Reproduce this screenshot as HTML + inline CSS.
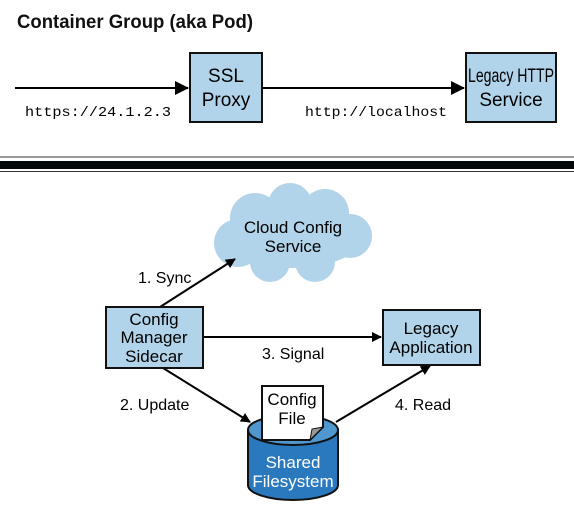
<!DOCTYPE html>
<html><head><meta charset="utf-8"><style>
html,body{margin:0;padding:0;background:#fff;}
svg text{font-family:"Liberation Sans Narrow","Liberation Sans",sans-serif;}
.m{font-family:"Liberation Mono",monospace !important;}
</style></head><body>
<svg width="574" height="509" viewBox="0 0 574 509" xmlns="http://www.w3.org/2000/svg">
<defs>
<marker id="a" markerWidth="10" markerHeight="10" refX="9" refY="5" orient="auto" markerUnits="userSpaceOnUse">
<path d="M0,0 L10,5 L0,10 z" fill="#000"/></marker>
<marker id="b" markerWidth="14" markerHeight="14" refX="13" refY="7" orient="auto" markerUnits="userSpaceOnUse">
<path d="M0,0 L14,7 L0,14 z" fill="#000"/></marker>
</defs>
<text x="17" y="28" font-size="19" font-weight="bold" fill="#111" textLength="236" lengthAdjust="spacingAndGlyphs">Container Group (aka Pod)</text>
<line x1="15" y1="88" x2="188" y2="88" stroke="#000" stroke-width="2" marker-end="url(#b)"/>
<rect x="190" y="53" width="72" height="69" fill="#b2d4ea" stroke="#111" stroke-width="2"/>
<text x="226" y="82" font-size="19" text-anchor="middle">SSL</text>
<text x="226" y="106" font-size="19" text-anchor="middle">Proxy</text>
<line x1="262" y1="88" x2="464" y2="88" stroke="#000" stroke-width="2" marker-end="url(#b)"/>
<rect x="466" y="53" width="90" height="69" fill="#b2d4ea" stroke="#111" stroke-width="2"/>
<text x="511" y="82" font-size="19" text-anchor="middle" textLength="86" lengthAdjust="spacingAndGlyphs">Legacy HTTP</text>
<text x="511" y="106" font-size="19" text-anchor="middle">Service</text>
<text x="25" y="116" font-size="14" class="m" textLength="146" lengthAdjust="spacingAndGlyphs">https://24.1.2.3</text>
<text x="305" y="116" font-size="14" class="m" textLength="142" lengthAdjust="spacingAndGlyphs">http://localhost</text>
<line x1="0" y1="157" x2="574" y2="157" stroke="#333" stroke-width="1"/>
<rect x="0" y="161" width="574" height="8" fill="#050808"/>
<line x1="0" y1="171.5" x2="574" y2="171.5" stroke="#333" stroke-width="1"/>
<!-- cloud -->
<g fill="#b2d4ea">
<ellipse cx="293" cy="236" rx="70" ry="32"/>
<circle cx="255" cy="218" r="25"/><circle cx="290" cy="205" r="22"/><circle cx="325" cy="213" r="24"/>
<circle cx="350" cy="236" r="22"/><circle cx="238" cy="243" r="24"/><circle cx="270" cy="262" r="20"/>
<circle cx="315" cy="262" r="20"/>
</g>
<text x="293" y="233" font-size="17" text-anchor="middle">Cloud Config</text>
<text x="293" y="252" font-size="17" text-anchor="middle">Service</text>
<line x1="160" y1="307" x2="235" y2="259" stroke="#000" stroke-width="2" marker-end="url(#a)"/>
<text x="138" y="283" font-size="16">1. Sync</text>
<line x1="203" y1="337" x2="381" y2="337" stroke="#000" stroke-width="2" marker-end="url(#a)"/>
<text x="262" y="359" font-size="16">3. Signal</text>
<line x1="163" y1="368" x2="250" y2="422" stroke="#000" stroke-width="2" marker-end="url(#a)"/>
<text x="120" y="410" font-size="16">2. Update</text>
<line x1="336" y1="422" x2="430" y2="366" stroke="#000" stroke-width="2" marker-end="url(#a)"/>
<text x="395" y="410" font-size="16">4. Read</text>
<rect x="106" y="307" width="97" height="61" fill="#b2d4ea" stroke="#111" stroke-width="2"/>
<text x="154" y="325" font-size="17" text-anchor="middle">Config</text>
<text x="154" y="343" font-size="17" text-anchor="middle">Manager</text>
<text x="154" y="362" font-size="17" text-anchor="middle">Sidecar</text>
<rect x="383" y="310" width="97" height="55" fill="#b2d4ea" stroke="#111" stroke-width="2"/>
<text x="431" y="334" font-size="17" text-anchor="middle">Legacy</text>
<text x="431" y="353" font-size="17" text-anchor="middle">Application</text>
<!-- cylinder -->
<path d="M248,430 L248,485 A45,15 0 0 0 338,485 L338,430 Z" fill="#2a78bd" stroke="#111" stroke-width="2"/>
<ellipse cx="293" cy="430" rx="45" ry="15" fill="#4f97cf" stroke="#111" stroke-width="2"/>
<text x="293" y="468" font-size="17" text-anchor="middle" fill="#fff">Shared</text>
<text x="293" y="487" font-size="17" text-anchor="middle" fill="#fff">Filesystem</text>
<path d="M262,386 L323,386 L323,427 L310,440 L262,440 Z" fill="#fff" stroke="#111" stroke-width="2"/>
<path d="M310,440 L312,429 L323,427 Z" fill="#999" stroke="#111" stroke-width="1"/>
<text x="292" y="405" font-size="17" text-anchor="middle">Config</text>
<text x="292" y="424" font-size="17" text-anchor="middle">File</text>
</svg>
</body></html>
